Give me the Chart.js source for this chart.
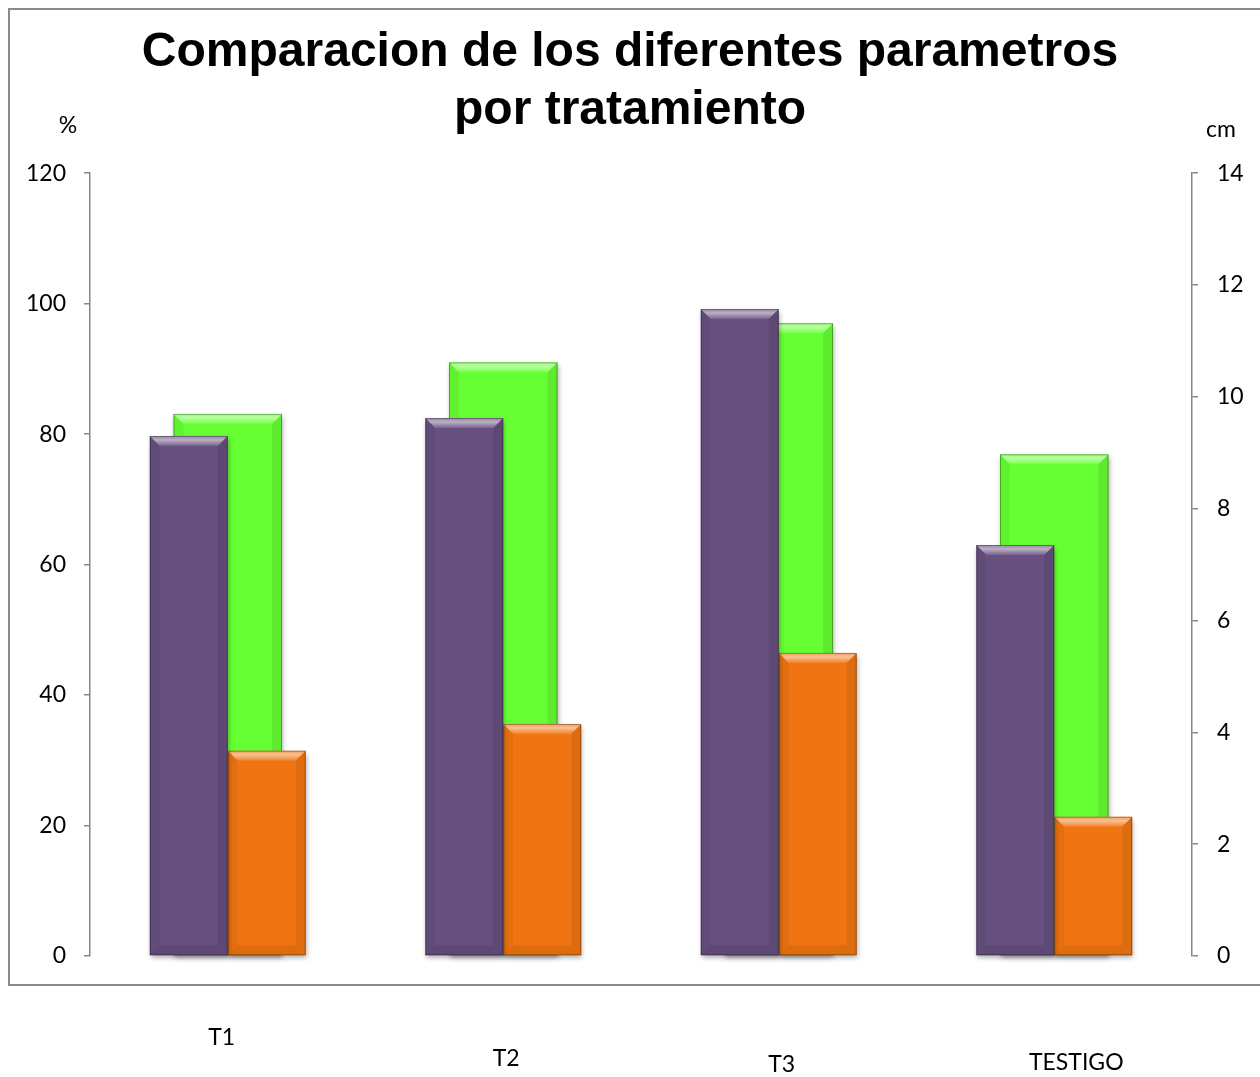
<!DOCTYPE html>
<html>
<head>
<meta charset="utf-8">
<script src="https://cdn.jsdelivr.net/npm/chart.js@4.4.1/dist/chart.umd.min.js"></script>
<style>
  html, body { margin:0; padding:0; background:#fff; }
  #wrap { width:1260px; height:1077px; position:relative; }
</style>
</head>
<body>
<div id="wrap"><canvas id="chart" width="1260" height="1077"></canvas></div>
<script>
// categories and series
const categories = ["T1", "T2", "T3", "TESTIGO"];
const serieVerde = [83.1, 91.0, 97.0, 76.9];     // left axis (%)
const serieMorada = [9.30, 9.62, 11.57, 7.35];   // right axis (cm)
const serieNaranja = [3.67, 4.15, 5.42, 2.49];   // right axis (cm)
const pctTicks = [0, 20, 40, 60, 80, 100, 120];
const cmTicks = [0, 2, 4, 6, 8, 10, 12, 14];

const titleLines = ["Comparacion de los diferentes parametros", "por tratamiento"];
const leftUnit = "%";
const rightUnit = "cm";

// label placement (these are loose text boxes in the original)
const labelOffsets = [{dx:-6, y:1038}, {dx:3, y:1059}, {dx:3, y:1065}, {dx:22, y:1063}];
const AXIS_GREY = "#868686";
const TICK_FONT = "23px Lato, 'Open Sans', sans-serif";

const frame = {
  id: "frame",
  beforeDraw(chart){
    const ctx = chart.ctx;
    ctx.save();
    ctx.fillStyle = "#fff";
    ctx.fillRect(0, 0, chart.width, chart.height);
    ctx.strokeStyle = "#8a8a8a";
    ctx.lineWidth = 2;
    ctx.strokeRect(9, 9, chart.width + 10, 976);
    ctx.restore();
  },
  afterDraw(chart){
    const ctx = chart.ctx;
    const x = chart.scales.x;
    ctx.save();
    ctx.fillStyle = "#000";
    ctx.font = TICK_FONT;
    ctx.textAlign = "center";
    ctx.textBaseline = "middle";
    ctx.fillText(leftUnit, 68, 126);
    ctx.fillText(rightUnit, 1221, 130);
    chart.data.labels.forEach((lab, i) => {
      const o = labelOffsets[i];
      ctx.fillText(lab, x.getPixelForValue(i) + o.dx, o.y);
    });
    ctx.restore();
  }
};

// soft shadow + bevel look of the office bars
const bevel = {
  id: "bevel",
  beforeDatasetDraw(chart, args){
    const ctx = chart.ctx;
    ctx.save();
    ctx.shadowColor = "rgba(0,0,0,0.35)";
    ctx.shadowBlur = 5;
    ctx.shadowOffsetX = 1;
    ctx.shadowOffsetY = 3;
  },
  afterDatasetDraw(chart, args){
    const ctx = chart.ctx;
    ctx.restore();
    const b = 10;
    args.meta.data.forEach(bar => {
      const l = bar.x - bar.width/2, r = bar.x + bar.width/2;
      const t = bar.y, btm = bar.base;
      ctx.save();
      // top band
      let g = ctx.createLinearGradient(0, t, 0, t + b);
      g.addColorStop(0, "rgba(255,255,255,0.3)");
      g.addColorStop(0.4, "rgba(255,255,255,0.55)");
      g.addColorStop(1, "rgba(255,255,255,0.1)");
      ctx.fillStyle = g;
      ctx.beginPath();
      ctx.moveTo(l, t); ctx.lineTo(r, t); ctx.lineTo(r - b, t + b); ctx.lineTo(l + b, t + b); ctx.closePath();
      ctx.fill();
      // sides
      ctx.fillStyle = "rgba(0,0,0,0.05)";
      ctx.beginPath();
      ctx.moveTo(l, t); ctx.lineTo(l + b, t + b); ctx.lineTo(l + b, btm - b); ctx.lineTo(l, btm); ctx.closePath();
      ctx.fill();
      ctx.fillStyle = "rgba(0,0,0,0.08)";
      ctx.beginPath();
      ctx.moveTo(r, t); ctx.lineTo(r - b, t + b); ctx.lineTo(r - b, btm - b); ctx.lineTo(r, btm); ctx.closePath();
      ctx.fill();
      // bottom band
      ctx.fillStyle = "rgba(0,0,0,0.08)";
      ctx.beginPath();
      ctx.moveTo(l, btm); ctx.lineTo(r, btm); ctx.lineTo(r - b, btm - b); ctx.lineTo(l + b, btm - b); ctx.closePath();
      ctx.fill();
      // outline
      ctx.strokeStyle = "rgba(0,0,0,0.3)";
      ctx.lineWidth = 1;
      ctx.strokeRect(l + 0.5, t + 0.5, bar.width - 1, btm - t - 1);
      ctx.restore();
    });
  }
};

function axisFit(w){ return scale => { scale.width = w; }; }

new Chart(document.getElementById("chart"), {
  type: "bar",
  data: {
    labels: categories,
    datasets: [
      { label: "Morada", data: serieMorada, yAxisID: "y1", backgroundColor: "#67507f",
        categoryPercentage: 0.566, barPercentage: 1, clip: false },
      { label: "Naranja", data: serieNaranja, yAxisID: "y1", backgroundColor: "#f07512",
        categoryPercentage: 0.566, barPercentage: 1, clip: false },
      { label: "Verde", data: serieVerde, yAxisID: "y", backgroundColor: "#66ff33",
        grouped: false, categoryPercentage: 0.394, barPercentage: 1, clip: false }
    ]
  },
  options: {
    responsive: false,
    animation: false,
    devicePixelRatio: 1,
    layout: { padding: { left: 0, right: 0, top: 0, bottom: 121 } },
    plugins: {
      legend: { display: false },
      tooltip: { enabled: false },
      title: {
        display: true,
        text: titleLines,
        color: "#000",
        font: { family: "'Liberation Sans', Arial, sans-serif", size: 48, weight: "bold", lineHeight: 1.21 },
        padding: { top: 24, bottom: 33 }
      }
    },
    scales: {
      x: { display: false },
      y: {
        position: "left", min: 0, max: 120,
        afterBuildTicks: s => { s.ticks = pctTicks.map(v => ({value: v})); },
        afterFit: axisFit(90),
        grid: { display: true, drawOnChartArea: false, drawTicks: true, tickLength: 6, color: AXIS_GREY, lineWidth: 1.5 },
        border: { display: true, color: AXIS_GREY, width: 1.5 },
        ticks: { color: "#000", padding: 18, font: { family: "Lato, 'Open Sans', sans-serif", size: 23 } }
      },
      y1: {
        position: "right", min: 0, max: 14,
        afterBuildTicks: s => { s.ticks = cmTicks.map(v => ({value: v})); },
        afterFit: axisFit(68),
        grid: { display: true, drawOnChartArea: false, drawTicks: true, tickLength: 6, color: AXIS_GREY, lineWidth: 1.5 },
        border: { display: true, color: AXIS_GREY, width: 1.5 },
        ticks: { color: "#000", padding: 19, font: { family: "Lato, 'Open Sans', sans-serif", size: 23 } }
      }
    }
  },
  plugins: [frame, bevel]
});
</script>
</body>
</html>
